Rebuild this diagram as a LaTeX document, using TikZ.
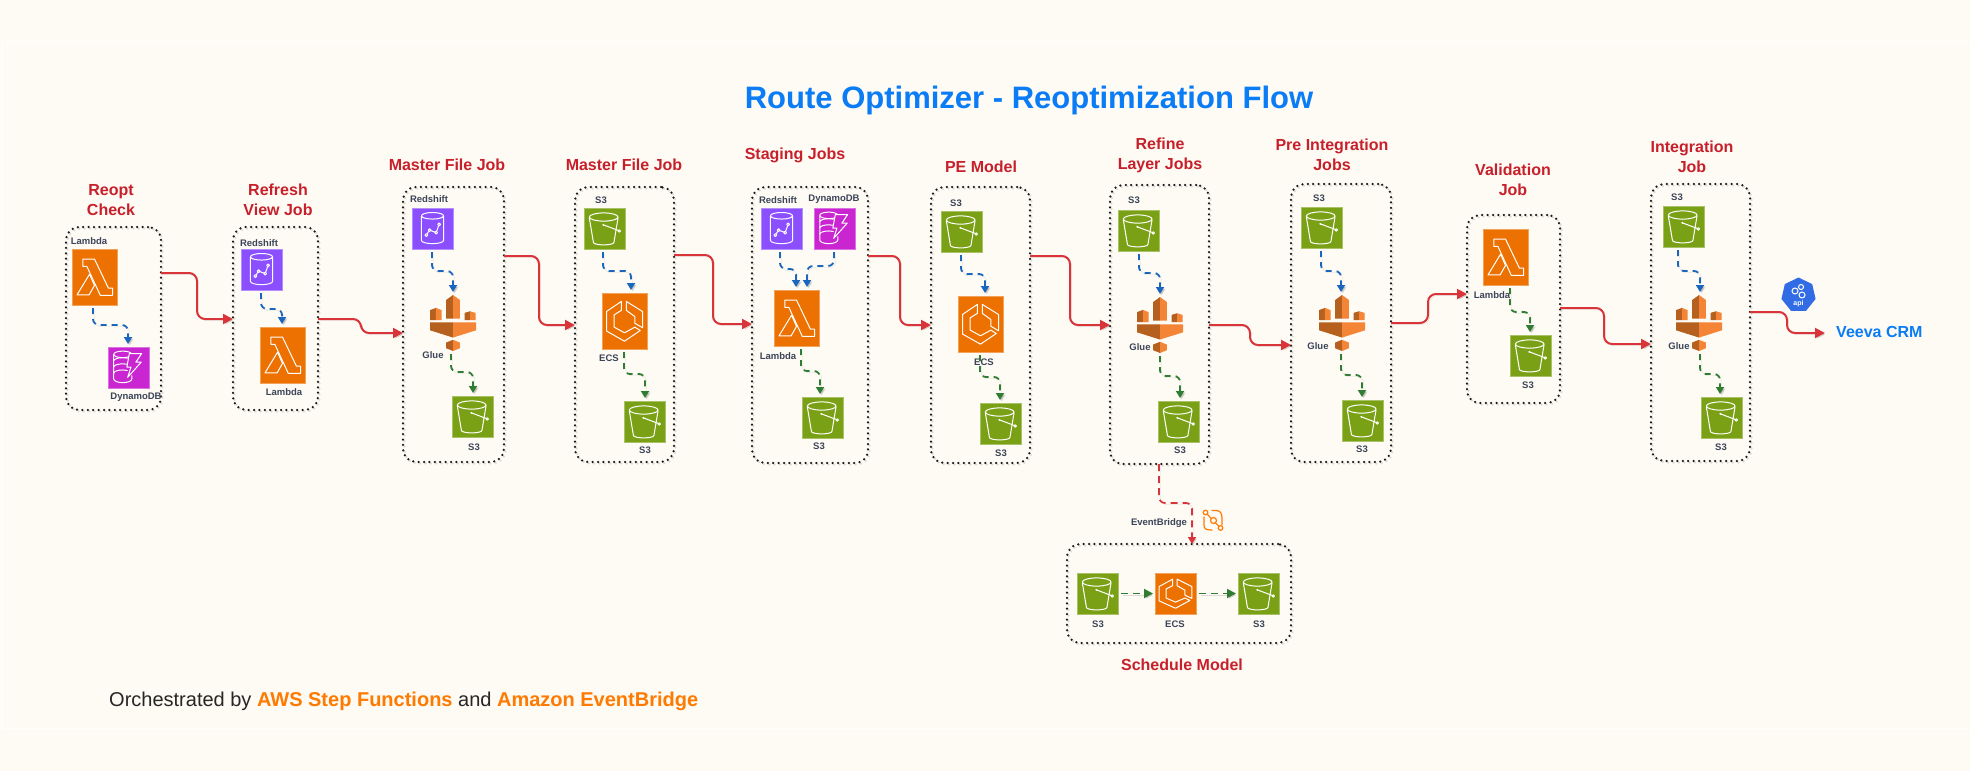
\documentclass[tikz,border=0pt]{standalone}
\usepackage{fontspec}
\setmainfont{Liberation Sans}
\usetikzlibrary{arrows.meta,shapes.geometric}
\definecolor{pagebg}{HTML}{FEFAF4}
\definecolor{panelline}{HTML}{FFFEFB}
\definecolor{awsorange}{HTML}{ED7100}
\definecolor{awsgreen}{HTML}{7AA116}
\definecolor{awspurple}{HTML}{8C4FFF}
\definecolor{awsmagenta}{HTML}{C925D1}
\definecolor{titlered}{HTML}{C7202B}
\definecolor{titleblue}{HTML}{0A7CF5}
\definecolor{textorange}{HTML}{FF7A00}
\definecolor{labelgrey}{HTML}{3B4558}
\definecolor{flowred}{HTML}{D9343A}
\definecolor{flowblue}{HTML}{1A66BF}
\definecolor{flowgreen}{HTML}{2E7D32}
\definecolor{gluedark}{HTML}{B5601F}
\definecolor{gluelight}{HTML}{F58536}
\definecolor{apiblue}{HTML}{326CE5}
\tikzset{
  softshadow/.style={preaction={draw=black,opacity=.13,transform canvas={shift={(1.5pt,-1.5pt)}}}},
  jobbox/.style={rectangle,rounded corners=13pt,draw=black!90,line width=2.5pt,dash pattern=on 0pt off 5.4pt,line cap=round,inner sep=0pt,outer sep=0pt,anchor=north west,softshadow},
  iconbox/.style={rectangle,inner sep=0pt,outer sep=0pt,anchor=north west,line width=.7pt},
  plainicon/.style={rectangle,inner sep=0pt,outer sep=0pt,anchor=north west,minimum width=46pt,minimum height=56pt},
  glyph/.style={draw=white,line width=1pt,line join=round,line cap=round},
  jobtitle/.style={font=\fontsize{16}{20}\selectfont\bfseries,text=titlered,align=center,inner sep=0pt},
  svclabel/.style={font=\fontsize{9.5}{11}\selectfont\bfseries,text=labelgrey,inner sep=0pt},
  redline/.style={draw=flowred,line width=2pt,rounded corners=8pt,-{Triangle[length=10pt,width=10pt]},softshadow},
  blueline/.style={draw=flowblue,line width=1.8pt,rounded corners=6pt,dash pattern=on 6pt off 5pt,-{Triangle[length=7pt,width=8pt]},shorten <=3pt,shorten >=3pt,softshadow},
  greenline/.style={draw=flowgreen,line width=1.8pt,rounded corners=6pt,dash pattern=on 6pt off 5pt,-{Triangle[length=7pt,width=8pt]},shorten <=3pt,shorten >=3pt,softshadow},
  greenstraight/.style={draw=flowgreen,line width=1.8pt,dash pattern=on 7pt off 5pt,-{Triangle[length=9pt,width=9pt]},shorten <=3pt,shorten >=2pt,softshadow},
  crimsonline/.style={draw=flowred,line width=1.7pt,rounded corners=6pt,dash pattern=on 7pt off 5pt,-{Triangle[length=7pt,width=8pt]},softshadow},
}
\newcommand{\glLambda}{%
  \draw[glyph] (24,18)--(50,18)--(81,70)--(90,70)--(90,83)--(63,83)--(33,31)--(24,31)--cycle;
  \draw[glyph] (11,82)--(38,82)--(50,65)--(39,45)--cycle;}
\newcommand{\glBucket}{%
  \draw[glyph] (48,22) circle[x radius=35,y radius=10];
  \draw[glyph] (13,24)--(23,84) arc[start angle=180,end angle=0,x radius=25,y radius=6]--(83,24);
  \draw[glyph] (47,41)--(84,55);
  \fill[white] (47,41) circle[radius=2.5];
  \draw[glyph] (86,56) circle[radius=3];}
\newcommand{\glRedshift}{%
  \draw[glyph] (50,19) circle[x radius=27,y radius=8];
  \draw[glyph] (23,20)--(23,79) arc[start angle=180,end angle=0,x radius=27,y radius=8]--(77,20);
  \draw[glyph] (35,66)--(43,54)--(59,60)--(66,40);
  \foreach \p in {(35,66),(43,54),(59,60),(66,40)} {\filldraw[glyph,fill=awspurple] \p circle[radius=3.5];}}
\newcommand{\glDynamo}{%
  \draw[glyph] (36,18) circle[x radius=22,y radius=8];
  \draw[glyph] (14,18)--(14,78) arc[start angle=180,end angle=0,x radius=22,y radius=9]--(58,70);
  \draw[glyph] (14,34) arc[start angle=180,end angle=60,x radius=22,y radius=-8];
  \draw[glyph] (14,49) arc[start angle=180,end angle=60,x radius=22,y radius=-8];
  \draw[glyph] (14,64) arc[start angle=180,end angle=60,x radius=22,y radius=-8];
  \filldraw[glyph,fill=awsmagenta] (52,16)--(82,16)--(68,37)--(81,37)--(48,74)--(56,49)--(46,49)--cycle;}
\newcommand{\glEcs}{%
  \draw[glyph] (43,15)--(10,33)--(10,68)--(50,86)--(85,67)--(73,61)--(50,71)--(27,61)--(27,39)--(43,31)--cycle;
  \draw[glyph] (54,15)--(90,33)--(90,62)--(73,54)--(73,42)--(54,31)--cycle;}
\newcommand{\icn}[7]{%
  \node[iconbox,fill=#3,draw=#3!65!white,minimum width=#6pt,minimum height=#7pt] (#1) at (#4,#5) {};
  \begin{scope}[shift={(#4,#5)},x=#6pt/100,y=-#7pt/100] #2 \end{scope}}
\newcommand{\lamb}[3]{\icn{#1}{\glLambda}{awsorange}{#2}{#3}{45}{56}}
\newcommand{\ecsi}[3]{\icn{#1}{\glEcs}{awsorange}{#2}{#3}{45}{56}}
\newcommand{\bucket}[3]{\icn{#1}{\glBucket}{awsgreen}{#2}{#3}{41}{41}}
\newcommand{\redsh}[3]{\icn{#1}{\glRedshift}{awspurple}{#2}{#3}{41}{41}}
\newcommand{\dyna}[3]{\icn{#1}{\glDynamo}{awsmagenta}{#2}{#3}{41}{41}}
\newcommand{\gluei}[3]{%
  \node[plainicon] (#1) at (#2,#3) {};
  \begin{scope}[shift={(#2,#3)},x=.46pt,y=-.56pt]
    \fill[gluedark] (35,9)--(50,0)--(50,42)--(35,42)--cycle;
    \fill[gluelight] (50,0)--(65,9)--(65,42)--(50,42)--cycle;
    \fill[gluedark] (0,27)--(13,23)--(13,45)--(0,45)--cycle;
    \fill[gluelight] (13,23)--(25,27)--(25,45)--(13,45)--cycle;
    \fill[gluedark] (75,32)--(87,29)--(87,45)--(75,45)--cycle;
    \fill[gluelight] (87,29)--(99,32)--(99,45)--(87,45)--cycle;
    \fill[gluedark] (0,49)--(50,49)--(50,76)--(0,63)--cycle;
    \fill[gluelight] (50,49)--(100,49)--(100,63)--(50,76)--cycle;
    \fill[gluedark] (35,85)--(50,80)--(50,100)--(35,95)--cycle;
    \fill[gluelight] (50,80)--(65,85)--(65,95)--(50,100)--cycle;
  \end{scope}}
\newcommand{\jbox}[5]{\node[jobbox,minimum width={(#4-#2)*1pt},minimum height={(#5-#3)*1pt}] (#1) at (#2,#3) {};}
\newcommand{\lbl}[4]{\node[svclabel] (#1) at (#2,#3) {#4};}
\newcommand{\redflow}[5]{\draw[redline] (#1.east |- 0,#2) -- (#3,#2) -- (#3,#5) -- (#4.west |- 0,#5);}
\newcommand{\dnflow}[6]{\draw[#1] (#2.south -| #3,0) -- (#3,#4) -- (#6,#4) -- (#5.north -| #6,0);}
\begin{document}
\begin{tikzpicture}[x=1pt,y=-1pt]
\useasboundingbox (0,0) rectangle (1970,771);
\fill[pagebg] (0,0) rectangle (1970,771);
\draw[panelline,line width=1pt] (1970,41) -- (2,41) -- (2,728) -- (1970,728);

\node[font=\fontsize{31}{36}\selectfont\bfseries,text=titleblue,inner sep=0pt] (maintitle) at (1029,100) {Route Optimizer - Reoptimization Flow};

% job boxes
\jbox{b1}{66}{227}{161}{410}
\jbox{b2}{233}{227}{318}{410}
\jbox{b3}{403}{187}{504}{462}
\jbox{b4}{575}{187}{674}{462}
\jbox{b5}{752}{187}{868}{463}
\jbox{b6}{931}{187}{1030}{463}
\jbox{b7}{1110}{185}{1209}{464}
\jbox{b8}{1291}{184}{1391}{462}
\jbox{b9}{1467}{215}{1560}{403}
\jbox{b10}{1651}{184}{1750}{461}
\jbox{b11}{1067}{544}{1291}{643}

% titles
\node[jobtitle] (t1) at (111,200) {Reopt\\Check};
\node[jobtitle] (t2) at (278,200) {Refresh\\View Job};
\node[jobtitle] (t3) at (447,165) {Master File Job};
\node[jobtitle] (t4) at (624,165) {Master File Job};
\node[jobtitle] (t5) at (795,155) {Staging Jobs};
\node[jobtitle] (t6) at (981,167) {PE Model};
\node[jobtitle] (t7) at (1160,155) {Refine\\Layer Jobs};
\node[jobtitle] (t8) at (1332,155) {Pre Integration\\Jobs};
\node[jobtitle] (t9) at (1513,180) {Validation\\Job};
\node[jobtitle] (t10) at (1692,157) {Integration\\Job};
\node[jobtitle] (t11) at (1182,665) {Schedule Model};

% box 1
\lamb{i1a}{72}{249}\lbl{l1a}{89}{241}{Lambda}
\dyna{i1b}{108}{347}\lbl{l1b}{136}{397}{DynamoDB}
\dnflow{blueline}{i1a}{93}{325}{i1b}{128}
% box 2
\redsh{i2a}{241}{249}\lbl{l2a}{259}{243}{Redshift}
\lamb{i2b}{260}{327}\lbl{l2b}{284}{392}{Lambda}
\dnflow{blueline}{i2a}{261}{309}{i2b}{282}
% box 3
\redsh{i3a}{412}{208}\lbl{l3a}{429}{199}{Redshift}
\gluei{i3b}{430}{295}\lbl{l3b}{433}{355}{Glue}
\bucket{i3c}{452}{396}\lbl{l3c}{474}{447}{S3}
\dnflow{blueline}{i3a}{432}{271}{i3b}{453}
\dnflow{greenline}{i3b}{451}{372}{i3c}{473}
% box 4
\bucket{i4a}{584}{208}\lbl{l4a}{601}{200}{S3}
\ecsi{i4b}{602}{293}\lbl{l4b}{609}{358}{ECS}
\bucket{i4c}{624}{401}\lbl{l4c}{645}{450}{S3}
\dnflow{blueline}{i4a}{603}{271}{i4b}{631}
\dnflow{greenline}{i4b}{624}{374}{i4c}{645}
% box 5
\redsh{i5a}{761}{208}\lbl{l5a}{778}{200}{Redshift}
\dyna{i5b}{814}{208}\lbl{l5b}{834}{199}{DynamoDB}
\lamb{i5c}{774}{290}\lbl{l5c}{778}{356}{Lambda}
\bucket{i5d}{802}{397}\lbl{l5d}{819}{446}{S3}
\dnflow{blueline}{i5a}{780}{269}{i5c}{796}
\dnflow{blueline}{i5b}{834}{266}{i5c}{807}
\dnflow{greenline}{i5c}{801}{371}{i5d}{820}
% box 6
\bucket{i6a}{941}{211}\lbl{l6a}{956}{203}{S3}
\ecsi{i6b}{958}{296}\lbl{l6b}{984}{362}{ECS}
\bucket{i6c}{980}{403}\lbl{l6c}{1001}{453}{S3}
\dnflow{blueline}{i6a}{961}{274}{i6b}{985}
\dnflow{greenline}{i6b}{980}{377}{i6c}{1000}
% box 7
\bucket{i7a}{1118}{210}\lbl{l7a}{1134}{200}{S3}
\gluei{i7b}{1137}{297}\lbl{l7b}{1140}{347}{Glue}
\bucket{i7c}{1158}{401}\lbl{l7c}{1180}{450}{S3}
\dnflow{blueline}{i7a}{1139}{273}{i7b}{1160}
\dnflow{greenline}{i7b}{1160}{376}{i7c}{1180}
% box 8
\bucket{i8a}{1301}{207}\lbl{l8a}{1319}{198}{S3}
\gluei{i8b}{1319}{295}\lbl{l8b}{1318}{346}{Glue}
\bucket{i8c}{1342}{400}\lbl{l8c}{1362}{449}{S3}
\dnflow{blueline}{i8a}{1321}{271}{i8b}{1341}
\dnflow{greenline}{i8b}{1341}{375}{i8c}{1362}
% box 9
\lamb{i9a}{1483}{229}\lbl{l9a}{1492}{295}{Lambda}
\bucket{i9b}{1510}{335}\lbl{l9b}{1528}{385}{S3}
\dnflow{greenline}{i9a}{1510}{312}{i9b}{1530}
% box 10
\bucket{i10a}{1663}{206}\lbl{l10a}{1677}{197}{S3}
\gluei{i10b}{1676}{295}\lbl{l10b}{1679}{346}{Glue}
\bucket{i10c}{1701}{397}\lbl{l10c}{1721}{447}{S3}
\dnflow{blueline}{i10a}{1678}{271}{i10b}{1700}
\dnflow{greenline}{i10b}{1700}{374}{i10c}{1720}
% schedule box
\bucket{i11a}{1077}{573}\lbl{l11a}{1098}{624}{S3}
\icn{i11b}{\glEcs}{awsorange}{1155}{573}{41}{41}\lbl{l11b}{1175}{624}{ECS}
\bucket{i11c}{1238}{573}\lbl{l11c}{1259}{624}{S3}
\draw[greenstraight] (i11a) -- (i11b);
\draw[greenstraight] (i11b) -- (i11c);

% main flow
\redflow{b1}{273}{197}{b2}{319}
\redflow{b2}{319}{361}{b3}{333}
\redflow{b3}{256}{539}{b4}{325}
\redflow{b4}{255}{713}{b5}{324}
\redflow{b5}{256}{900}{b6}{325}
\redflow{b6}{256}{1070}{b7}{325}
\redflow{b7}{325}{1250}{b8}{345}
\redflow{b8}{323}{1428}{b9}{294}
\redflow{b9}{308}{1604}{b10}{344}

% API and Veeva
\node[regular polygon,regular polygon sides=7,fill=apiblue,inner sep=0pt,minimum size=35pt] (api) at (1798.5,295) {};
\draw[white,line width=1pt] (1795,291) circle[radius=3];
\draw[white,line width=1pt] (1801,287) circle[radius=2.5];
\draw[white,line width=1pt] (1802,295) circle[radius=3];
\node[font=\fontsize{7}{8}\selectfont\bfseries,text=white,inner sep=0pt] (apitext) at (1798.5,304) {api};
\node[font=\fontsize{16}{20}\selectfont\bfseries,text=titleblue,inner sep=0pt,anchor=west] (veeva) at (1836,332) {Veeva CRM};
\draw[redline] (b10.east |- 0,312) -- (1787,312) -- (1787,333) -- ([xshift=-11pt]veeva.west |- 0,333);

% EventBridge
\node[svclabel] (ebl) at (1159,523) {EventBridge};
\coordinate (ebcorner) at (1192,503);
\draw[crimsonline] (b7.south -| 1159,0) -- (1159,503) -- (ebcorner) -- (b11.north -| 1192,0);
\begin{scope}[shift={(1203,510)},orange!90!red]
  \node[inner sep=0pt,outer sep=0pt,minimum width=20pt,minimum height=21pt,anchor=north west] (ebicon) at (0,0) {};
  \draw[textorange,line width=1.2pt,line cap=round] (1,7) -- (1,15) .. controls (1,19) and (3,20) .. (9,20);
  \draw[textorange,line width=1.2pt,line cap=round] (9,0.5) -- (13,0.5) .. controls (17,0.5) and (19,3) .. (19,8) -- (19,15);
  \draw[textorange,line width=1.2pt] (2.5,2.5) -- (17.5,18);
  \filldraw[textorange,fill=pagebg,line width=1.2pt] (2.5,2.5) circle[radius=2.3];
  \filldraw[textorange,fill=pagebg,line width=1.2pt] (10.5,10.5) circle[radius=3];
  \filldraw[textorange,fill=pagebg,line width=1.2pt] (17.5,18) circle[radius=2.3];
\end{scope}

% footer
\node[font=\fontsize{20}{24}\selectfont,text=black!85,inner sep=0pt,anchor=west] (footer) at (109,701) {Orchestrated by \textcolor{textorange}{\bfseries AWS Step Functions} and \textcolor{textorange}{\bfseries Amazon EventBridge}};
\end{tikzpicture}
\end{document}
